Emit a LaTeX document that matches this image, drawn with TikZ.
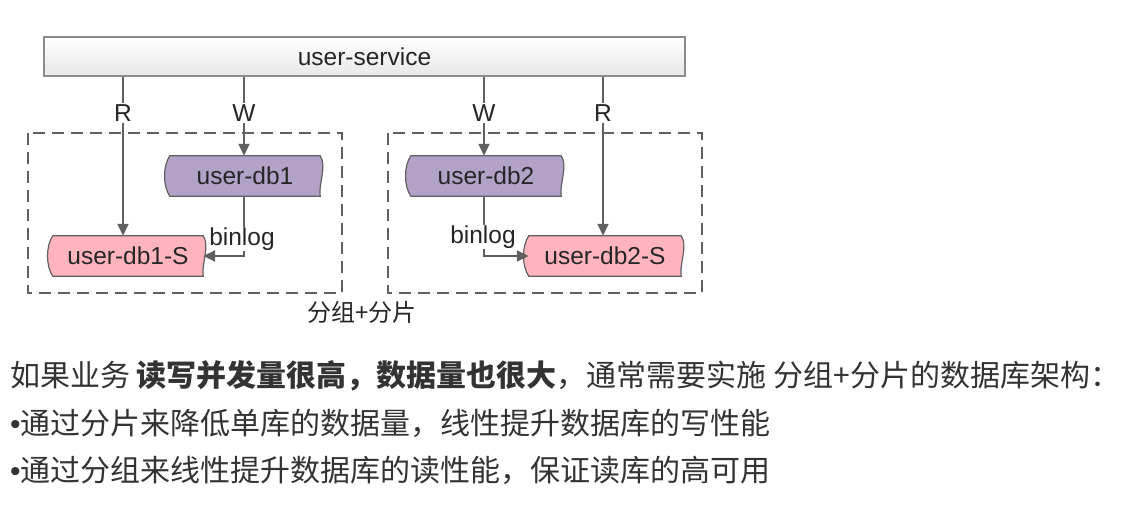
\documentclass[tikz,border=0pt]{standalone}
\usepackage{fontspec}
\setmainfont{Liberation Sans}
\newfontfamily\cjk{Noto Sans CJK SC}
\usetikzlibrary{backgrounds,calc,arrows.meta}

\definecolor{linegray}{HTML}{606060}
\definecolor{dbpurple}{HTML}{B3A2C7}
\definecolor{dbpink}{HTML}{FFB4BE}
\definecolor{txtgray}{HTML}{333333}

% outline of a db node: flat top and bottom, bulging left side, wavy right side
\newcommand{\dbpath}[1]{(#1.north west) -- (#1.north east)
  .. controls +(7,10) and +(-2,-12) .. (#1.south east) -- (#1.south west)
  .. controls +(-7,-10) and +(-7,10) .. (#1.north west) -- cycle}

\begin{document}
\begin{tikzpicture}
  [x=1pt, y=-1pt,
   lbl/.style={font=\fontsize{24.5}{28}\selectfont, text=black!85, inner sep=1pt},
   dbnode/.style={lbl, minimum width=#1, minimum height=40, inner sep=0},
   dbline/.style={draw=linegray, line width=1.2pt},
   conn/.style={draw=linegray, line width=1.8pt},
   arr/.style={conn, -{Triangle[length=12pt, width=11pt]}},
   groupbox/.style={draw=linegray, line width=1.8pt, dash pattern=on 12pt off 7pt},
   para/.style={font=\cjk\fontsize{30}{36}\selectfont, text=txtgray, inner sep=0, anchor=west}]
  \begin{scope}[on background layer]
    \fill[white] (0,0) rectangle (1128,520);
  \end{scope}
  \useasboundingbox (0,0) rectangle (1128,520);

  % service
  \node[lbl, draw=gray!90, line width=2pt, top color=white, bottom color=gray!18,
        minimum width=641, minimum height=39] (svc) at (364.5,56.5) {user-service};

  % groups
  \draw[groupbox] (28,133) rectangle (342,293);
  \draw[groupbox] (388,133) rectangle (702,293);

  % databases
  \node[dbnode=150] (db1) at (245,176) {user-db1};
  \node[dbnode=150] (db1s) at (128,256) {user-db1-S};
  \node[dbnode=150] (db2) at (486,176) {user-db2};
  \node[dbnode=152] (db2s) at (605,256) {user-db2-S};
  \begin{scope}[on background layer]
    \filldraw[dbline, fill=dbpurple] \dbpath{db1};
    \filldraw[dbline, fill=dbpink] \dbpath{db1s};
    \filldraw[dbline, fill=dbpurple] \dbpath{db2};
    \filldraw[dbline, fill=dbpink] \dbpath{db2s};
  \end{scope}

  % labels
  \node[lbl] (r1) at (123,113) {R};
  \node[lbl] (w1) at (244,113) {W};
  \node[lbl] (w2) at (484,113) {W};
  \node[lbl] (r2) at (603,113) {R};
  \node[lbl, inner sep=0] (bl1) at (242,239) {binlog};
  \node[lbl, inner sep=0] (bl2) at (483,237) {binlog};

  % read / write
  \draw[conn] (svc.south -| r1) -- (r1.north);
  \draw[arr] (r1.south) -- (r1 |- db1s.north);
  \draw[conn] (svc.south -| w1) -- (w1.north);
  \draw[arr] (w1.south) -- (w1 |- db1.north);
  \draw[conn] (svc.south -| w2) -- (w2.north);
  \draw[arr] (w2.south) -- (w2 |- db2.north);
  \draw[conn] (svc.south -| r2) -- (r2.north);
  \draw[arr] (r2.south) -- (r2 |- db2s.north);

  % binlog
  \draw[conn] (w1 |- db1.south) -- (w1 |- bl1.north);
  \draw[arr] (w1 |- bl1.south) |- (db1s.east);
  \draw[conn] (w2 |- db2.south) -- (w2 |- bl2.north);
  \draw[arr] (w2 |- bl2.south) |- (db2s.west);

  \node[font=\cjk\fontsize{24}{28}\selectfont, text=black!85, inner sep=0] (cap) at (362,312) {分组+分片};

  % text
  \node[para] (l1) at (10,376) {如果业务 {\bfseries 读写并发量很高，数据量也很大}，通常需要实施 分组+分片的数据库架构：};
  \node[para] (l2) at (10,423) {{\rmfamily •}通过分片来降低单库的数据量，线性提升数据库的写性能};
  \node[para] (l3) at (10,470) {{\rmfamily •}通过分组来线性提升数据库的读性能，保证读库的高可用};
\end{tikzpicture}
\end{document}
